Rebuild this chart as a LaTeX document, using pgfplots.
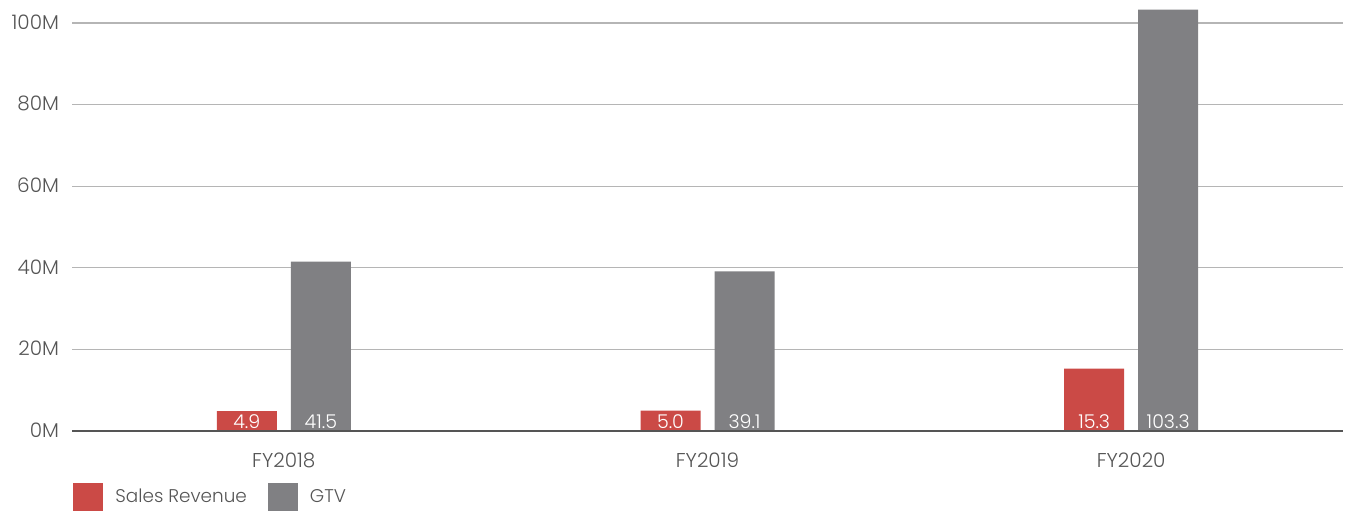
\documentclass[border=0pt]{standalone}
\usepackage{fontspec}
\setmainfont{Poppins}[UprightFont={* Light}]
\usepackage{pgfplots}
\pgfplotsset{compat=1.18}
\definecolor{rev}{HTML}{CB4A46}
\definecolor{gtv}{HTML}{808083}
\definecolor{lab}{HTML}{555555}
\definecolor{grd}{HTML}{B5B5B5}
\begin{document}
\begin{tikzpicture}
\path[use as bounding box] (0,0) rectangle (677pt,255.5pt);
\begin{axis}[
  at={(36pt,40pt)}, anchor=south west,
  scale only axis, width=635.5pt, height=214.2pt,
  xmin=-0.5, xmax=2.5, ymin=0, ymax=105,
  axis line style={draw=none},
  ytick={0,20,40,60,80,100},
  xtick={0,1,2},
  xticklabels={FY2018,FY2019,FY2020},
  yticklabel={\pgfmathprintnumber{\tick}M},
  /pgf/number format/assume math mode=true,
  tick style={draw=none},
  ticklabel style={font=\fontsize{10}{11}\selectfont, text=lab},
  yticklabel style={xshift=-3pt, yshift=0.5pt},
  xticklabel style={yshift=-7.5pt},
  ymajorgrids, grid style={grd, line width=0.6pt},
  legend style={at={(0,0)}, anchor=west, yshift=-33pt, xshift=0.5pt, draw=none, fill=none,
    font=\fontsize{9.2}{10}\selectfont, text=lab, inner sep=0pt,
    /tikz/every even column/.append style={column sep=8.5pt}},
  legend columns=2,
  legend image code/.code={\fill[#1] (0pt,-7pt) rectangle (15pt,7pt); \path (19pt,0pt);},
  legend cell align=left,
  clip=false,
]
\addplot[ybar, bar width=30pt, bar shift=-18.5pt, fill=rev, draw=none] coordinates {(0,4.9) (1,5.0) (2,15.3)};
\addlegendentry{Sales Revenue}
\addplot[ybar, bar width=30pt, bar shift=18.5pt, fill=gtv, draw=none] coordinates {(0,41.5) (1,39.1) (2,103.3)};
\addlegendentry{GTV}
\draw[lab, line width=1pt] (rel axis cs:0,0) -- (rel axis cs:1,0);
\addplot[only marks, mark=none, forget plot,
  point meta=explicit symbolic, nodes near coords,
  every node near coord/.append style={anchor=base, xshift=-18.5pt, yshift=1.5pt, text=white, font=\fontsize{9.5}{10}\selectfont}]
  table[meta=l] {x y l
0 0 4.9
1 0 5.0
2 0 15.3
};
\addplot[only marks, mark=none, forget plot,
  point meta=explicit symbolic, nodes near coords,
  every node near coord/.append style={anchor=base, xshift=18.5pt, yshift=1.5pt, text=white, font=\fontsize{9.5}{10}\selectfont}]
  table[meta=l] {x y l
0 0 41.5
1 0 39.1
2 0 103.3
};
\end{axis}
\end{tikzpicture}
\end{document}
